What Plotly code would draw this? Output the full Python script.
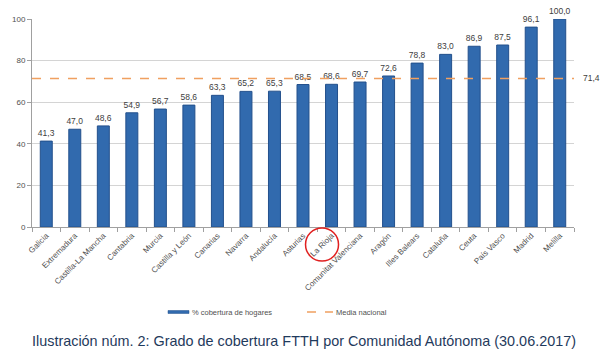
import plotly.graph_objects as go

regions = ["Galicia", "Extremadura", "Castilla-La Mancha", "Cantabria", "Murcia",
           "Castilla y León", "Canarias", "Navarra", "Andalucía", "Asturias",
           "La Rioja", "Comunitat Valenciana", "Aragón", "Illes Balears", "Cataluña",
           "Ceuta", "País Vasco", "Madrid", "Melilla"]
coverage = [41.3, 47.0, 48.6, 54.9, 56.7, 58.6, 63.3, 65.2, 65.3, 68.5,
            68.6, 69.7, 72.6, 78.8, 83.0, 86.9, 87.5, 96.1, 100.0]
national_avg = 71.4
y_ticks = [0, 20, 40, 60, 80, 100]
highlight = "La Rioja"
bar_name = "% cobertura de hogares"
line_name = "Media nacional"

def es(v):
    return f"{v:.1f}".replace(".", ",")

BAR_COLOR = "#316aae"
LINE_COLOR = "#f0a060"
TXT = "#404040"
FONT = "Liberation Sans"

fig = go.Figure()
fig.add_trace(go.Bar(
    x=regions, y=coverage, name=bar_name,
    width=0.42,
    marker=dict(color=BAR_COLOR, line=dict(color="#23508c", width=1)),
    text=[es(v) for v in coverage], textposition="outside",
    textfont=dict(family=FONT, size=8.5, color=TXT),
    constraintext="none",
    cliponaxis=False,
    showlegend=False,
    hoverinfo="skip",
))

fig.add_shape(type="line", xref="paper", x0=0, x1=1, yref="y",
              y0=national_avg, y1=national_avg,
              line=dict(color=LINE_COLOR, width=1.5, dash="dash"), layer="above")
fig.add_annotation(xref="paper", x=1.012, xanchor="left", yref="y", y=national_avg,
                   text=es(national_avg), showarrow=False,
                   font=dict(family=FONT, size=8.5, color=TXT))

# red circle around the highlighted label
hx = (regions.index(highlight) + 0.5) / len(regions)
fig.add_shape(type="circle", xref="paper", xsizemode="pixel", xanchor=hx,
              x0=-26, x1=7, yref="paper", ysizemode="pixel", yanchor=0,
              y0=-34, y1=-1,
              line=dict(color="#e02020", width=1.5))

# manual legend
fig.add_shape(type="rect", xref="paper", yref="paper",
              x0=(168 - 32) / 542, x1=(189 - 32) / 542,
              y0=-(313.5 - 227) / 208, y1=-(310.5 - 227) / 208,
              fillcolor=BAR_COLOR, line=dict(color="#23508c", width=0.5))
fig.add_annotation(xref="paper", yref="paper", x=(190 - 32) / 542, xanchor="left",
                   y=-(312 - 227) / 208, yanchor="middle", text=bar_name,
                   showarrow=False, font=dict(family=FONT, size=7.5, color="#505050"))
fig.add_shape(type="line", xref="paper", yref="paper",
              x0=(307 - 32) / 542, x1=(333 - 32) / 542,
              y0=-(312 - 227) / 208, y1=-(312 - 227) / 208,
              line=dict(color=LINE_COLOR, width=1.5, dash="dash"))
fig.add_annotation(xref="paper", yref="paper", x=(334 - 32) / 542, xanchor="left",
                   y=-(312 - 227) / 208, yanchor="middle", text=line_name,
                   showarrow=False, font=dict(family=FONT, size=7.5, color="#505050"))

fig.add_annotation(xref="paper", x=(304 - 32) / 542, xanchor="center", yref="paper",
                   y=-(341 - 227) / 208, yanchor="middle",
                   text="Ilustración núm. 2: Grado de cobertura FTTH por Comunidad Autónoma (30.06.2017)",
                   showarrow=False,
                   font=dict(family=FONT, size=14.4, color="#1f3a5c"))

fig.update_layout(
    width=600, height=358,
    margin=dict(l=32, r=26, t=19, b=131, autoexpand=False),
    paper_bgcolor="white", plot_bgcolor="white",
    font=dict(family=FONT, color=TXT),
    showlegend=False,
    hovermode=False,
)
fig.update_xaxes(
    type="category", tickangle=-45, tickfont=dict(size=8, color="#505050"),
    showline=True, linecolor="#a0a0a0", linewidth=1,
    ticks="outside", ticklen=4, tickcolor="#a0a0a0", tickson="boundaries",
    showgrid=False, automargin=False,
)
fig.update_yaxes(
    range=[0, 100], tickvals=y_ticks, tickfont=dict(size=8, color="#505050"),
    showline=True, linecolor="#a0a0a0", linewidth=1,
    ticks="outside", ticklen=4, tickcolor="#a0a0a0",
    gridcolor="#d4d4d4", gridwidth=1, zeroline=False, automargin=False,
)

fig.write_html("out.html", config={"displayModeBar": False, "staticPlot": True},
               post_script="document.body.style.margin='0';document.body.style.overflow='hidden';")
